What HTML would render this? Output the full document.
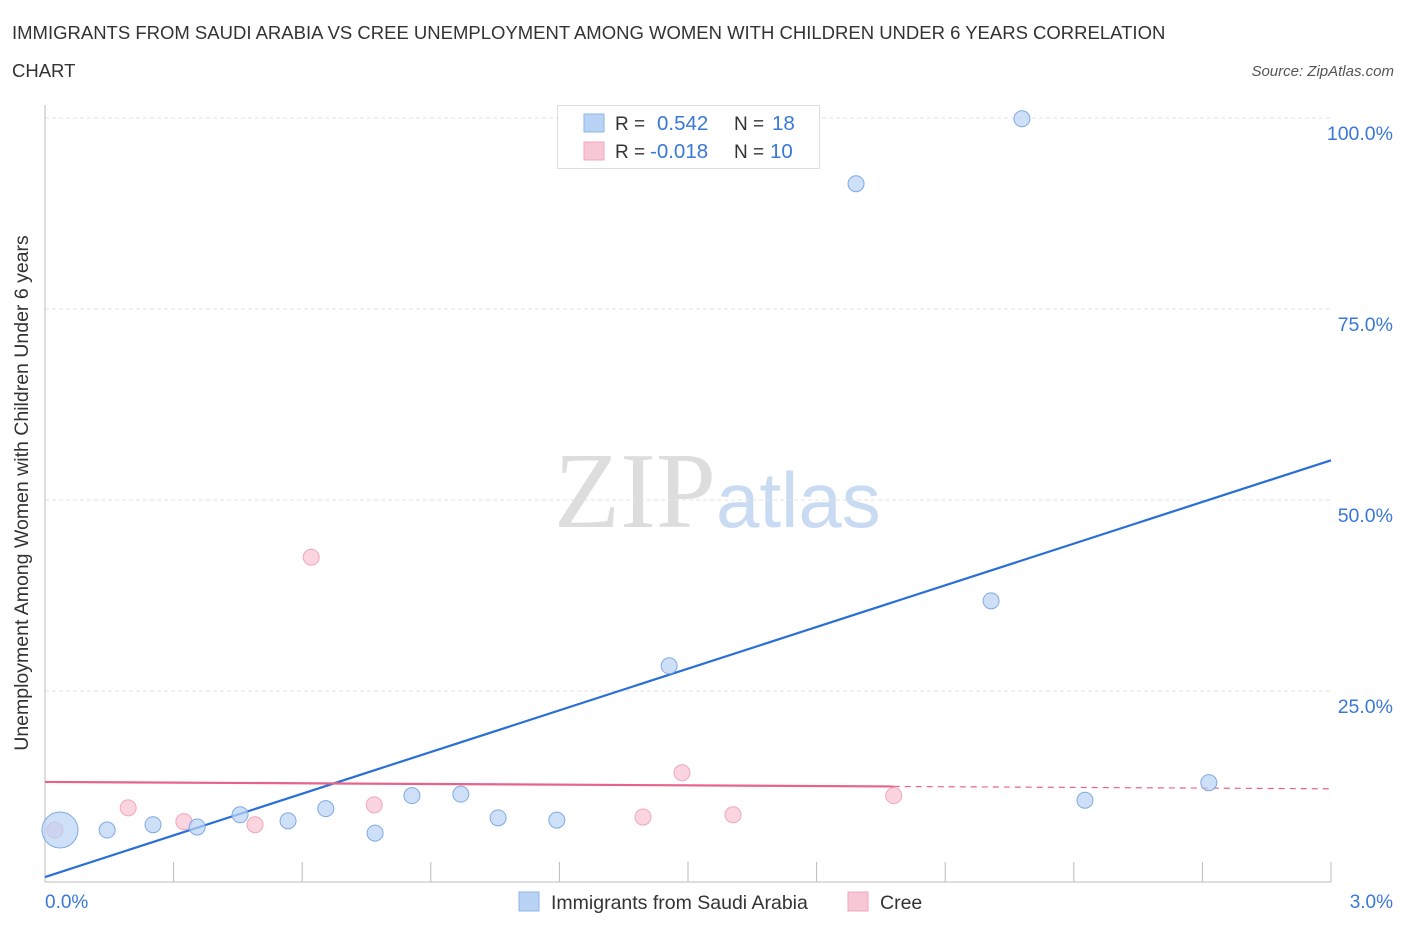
<!DOCTYPE html>
<html><head><meta charset="utf-8"><style>
body{margin:0;background:#fff;font-family:"Liberation Sans",sans-serif;}
svg{display:block}
</style></head><body>
<svg width="1406" height="930" xmlns="http://www.w3.org/2000/svg">
<text x="12" y="39" font-size="18.5" fill="#333">IMMIGRANTS FROM SAUDI ARABIA VS CREE UNEMPLOYMENT AMONG WOMEN WITH CHILDREN UNDER 6 YEARS CORRELATION</text>
<text x="12" y="77" font-size="18.5" fill="#333">CHART</text>
<text x="1394" y="76" font-size="15" fill="#555" font-style="italic" text-anchor="end">Source: ZipAtlas.com</text>
<text x="716" y="527" font-size="108" fill="#ddd" font-family="Liberation Serif,serif" text-anchor="end">ZIP</text>
<text x="716" y="527" font-size="78" fill="#c9dbf3">atlas</text>
<g id="grid"></g>
<g id="axes"></g>
<g id="trend"></g>
<g id="pts"></g>
<text x="28" y="493" font-size="19.5" fill="#333" text-anchor="middle" transform="rotate(-90 28 493)" dy="0">Unemployment Among Women with Children Under 6 years</text>
<text x="45" y="908" font-size="19" fill="#3a78d8">0.0%</text>
<text x="1393" y="908" font-size="19" fill="#3a78d8" text-anchor="end">3.0%</text>
<g>
<rect x="557.5" y="105.5" width="262" height="63" fill="#fff" stroke="#ddd"/>
<rect x="584" y="114" width="20" height="18" fill="#b9d3f5" stroke="#8fb5ea"/>
<rect x="584" y="142" width="20" height="18" fill="#f8c7d5" stroke="#f0a6bc"/>
<text x="615" y="130" font-size="19" fill="#333">R = </text><text x="657" y="130" font-size="20.5" fill="#3a78d8">0.542</text>
<text x="734" y="130" font-size="19" fill="#333">N = </text><text x="772" y="130" font-size="20.5" fill="#3a78d8">18</text>
<text x="615" y="158" font-size="19" fill="#333">R = </text><text x="650" y="158" font-size="20.5" fill="#3a78d8">-0.018</text>
<text x="734" y="158" font-size="19" fill="#333">N = </text><text x="770" y="158" font-size="20.5" fill="#3a78d8">10</text>
</g>
<g>
<rect x="519" y="892" width="20" height="19" fill="#b9d3f5" stroke="#8fb5ea"/>
<text x="551" y="909" font-size="19.5" fill="#333">Immigrants from Saudi Arabia</text>
<rect x="848" y="892" width="20" height="19" fill="#f8c7d5" stroke="#f0a6bc"/>
<text x="880" y="909" font-size="19.5" fill="#333">Cree</text>
</g>
</svg>
<script>
const blueX=[0.035,0.145,0.252,0.355,0.455,0.567,0.655,0.770,0.856,0.970,1.057,1.194,1.456,1.892,2.207,2.279,2.426,2.715];
const blueY=[6.8,6.8,7.5,7.2,8.8,8.0,9.6,6.4,11.3,11.5,8.4,8.1,28.3,91.4,36.8,99.9,10.7,13.0];
const blueR=[18,8,8,8,8,8,8,8,8,8,8,8,8,8,8,8,8,8];
const pinkX=[0.023,0.194,0.324,0.490,0.621,0.768,1.395,1.486,1.605,1.980];
const pinkY=[6.8,9.7,7.9,7.5,42.5,10.1,8.5,14.3,8.8,11.3];
const blueTrend=[0.65,55.2];
const pinkTrend=[13.1,12.2];
const yTicks=[25,50,75,100];
const xTicks=[0,0.3,0.6,0.9,1.2,1.5,1.8,2.1,2.4,2.7,3.0];
const NS="http://www.w3.org/2000/svg";
const sx=v=>45+v/3*1286, sy=v=>882-v*7.64;
function mk(tag,attrs,parent){const e=document.createElementNS(NS,tag);for(const k in attrs)e.setAttribute(k,attrs[k]);document.getElementById(parent).appendChild(e);return e;}
yTicks.forEach(t=>{
 const l=mk('line',{x1:45,x2:1331,y1:sy(t),y2:sy(t),stroke:'#e3e3e3','stroke-dasharray':'4 3'},'grid');
 
 
 const tx=mk('text',{x:1393,y:sy(t)+22,'font-size':19.5,fill:'#3a78d8','text-anchor':'end'},'grid');
 tx.textContent=t.toFixed(1)+'%';
 
 
});
const ax=mk('line',{x1:45,x2:45,y1:105,y2:882,stroke:'#bbb'},'axes');


const bx=mk('line',{x1:45,x2:1331,y1:882,y2:882,stroke:'#bbb'},'axes');


xTicks.forEach(t=>{const l=mk('line',{x1:sx(t),x2:sx(t),y1:862,y2:882,stroke:'#bbb'},'axes');
 
 });
const bt=mk('line',{x1:sx(0),y1:sy(blueTrend[0]),x2:sx(3),y2:sy(blueTrend[1]),stroke:'#2a6fd6','stroke-width':2.2},'trend');


const pmax=Math.max(...pinkX);
const pAt=v=>pinkTrend[0]+(pinkTrend[1]-pinkTrend[0])*v/3;
const pt=mk('line',{x1:sx(0),y1:sy(pAt(0)),x2:sx(pmax),y2:sy(pAt(pmax)),stroke:'#e8638a','stroke-width':2.2},'trend');


const pd=mk('line',{x1:sx(pmax),y1:sy(pAt(pmax)),x2:sx(3),y2:sy(pAt(3)),stroke:'#e8638a','stroke-width':1.2,'stroke-dasharray':'6 5'},'trend');


pinkX.forEach((x,i)=>{const c=mk('circle',{cx:sx(x),cy:sy(pinkY[i]),r:8,fill:'#f8c7d5','fill-opacity':0.75,stroke:'#f0a6bc'},'pts');
 
 });
blueX.forEach((x,i)=>{const c=mk('circle',{cx:sx(x),cy:sy(blueY[i]),r:blueR[i],fill:'#b9d3f5','fill-opacity':0.7,stroke:'#7fa9e3'},'pts');
 
 });
</script>
</body></html>
